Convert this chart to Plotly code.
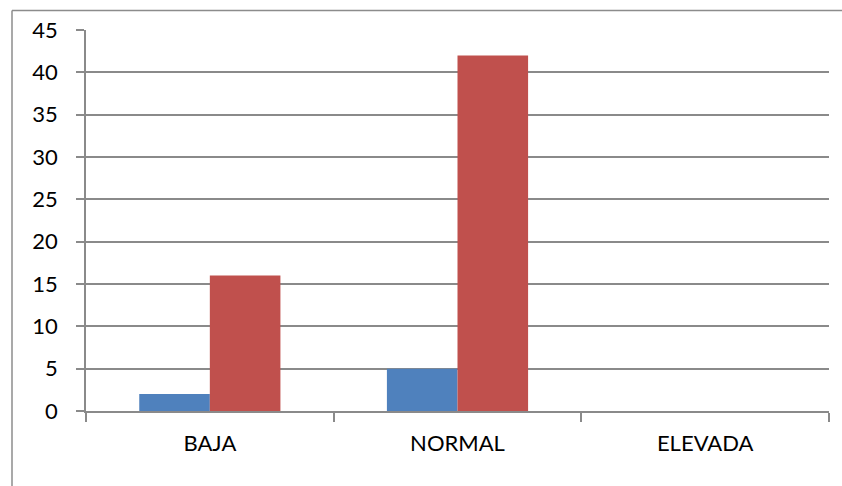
import plotly.graph_objects as go

# Category labels and series values
categories = ["BAJA", "NORMAL", "ELEVADA"]
serie_1 = [2, 5, 0]
serie_2 = [16, 42, 0]
y_ticks = [0, 5, 10, 15, 20, 25, 30, 35, 40, 45]

BLUE = "#4F81BD"
RED = "#C0504D"
GRID = "#8A8A8A"
FONT = dict(family="Lato, Calibri, Carlito, sans-serif", size=22, color="#000000")

fig = go.Figure()
fig.add_trace(go.Bar(x=categories, y=serie_1, marker=dict(color=BLUE, line=dict(width=0)), name="Serie 1"))
fig.add_trace(go.Bar(x=categories, y=serie_2, marker=dict(color=RED, line=dict(width=0)), name="Serie 2"))

W, H = 842, 486
L, R, T, B = 86, 13, 29.5, 75.3
pw, ph = W - L - R, H - T - B

fig.update_layout(
    width=W, height=H,
    margin=dict(l=L, r=R, t=T, b=B, pad=0),
    paper_bgcolor="white", plot_bgcolor="white",
    barmode="group", bargap=0.43, bargroupgap=0,
    showlegend=False,
    font=FONT,
)

fig.update_xaxes(
    type="category",
    showline=True, linecolor=GRID, linewidth=1.5,
    ticks="outside", tickson="boundaries", ticklen=9, tickcolor=GRID, tickwidth=1.5,
    showgrid=False, ticklabelstandoff=12,
    tickfont=FONT,
)
fig.update_yaxes(
    range=[0, 45], tickvals=y_ticks,
    showline=True, linecolor=GRID, linewidth=1.5,
    ticks="outside", ticklen=8, tickcolor=GRID, tickwidth=1.5,
    showgrid=True, gridcolor=GRID, gridwidth=1.5,
    zeroline=False, ticklabelstandoff=14,
    tickfont=FONT,
)

# Chart-area frame (top and left edges)
x_left = (12 - L) / pw
y_top = 1 + (T - 10) / ph
fig.add_shape(type="line", xref="paper", yref="paper", x0=x_left, x1=1.1, y0=y_top, y1=y_top,
              line=dict(color="#8C8C8C", width=1.5))
fig.add_shape(type="line", xref="paper", yref="paper", x0=x_left, x1=x_left, y0=y_top, y1=-0.3,
              line=dict(color="#8C8C8C", width=1.5))

fig.write_html("out.html")
